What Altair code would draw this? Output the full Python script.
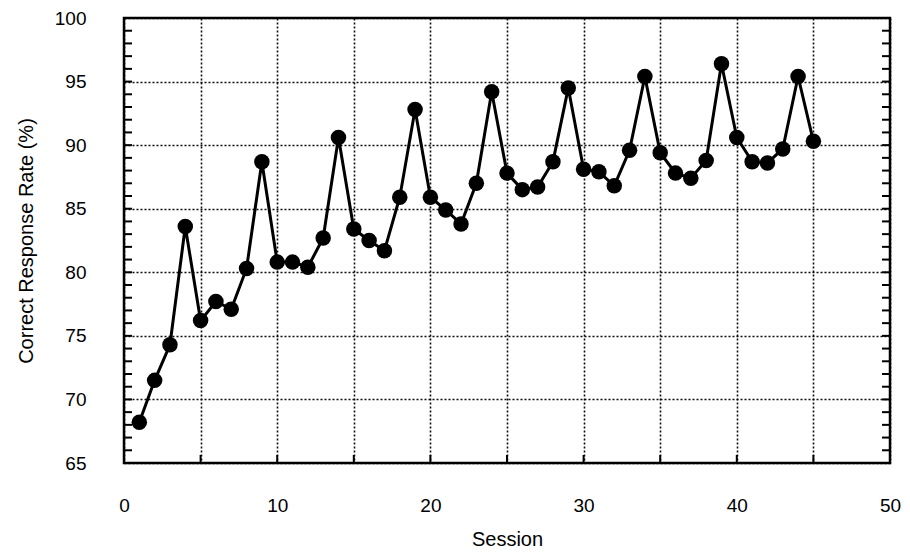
import altair as alt
import pandas as pd

sessions = list(range(1, 46))
rates = [68.2, 71.5, 74.3, 83.6, 76.2, 77.7, 77.1, 80.3, 88.7, 80.8,
         80.8, 80.4, 82.7, 90.6, 83.4, 82.5, 81.7, 85.9, 92.8, 85.9,
         84.9, 83.8, 87.0, 94.2, 87.8, 86.5, 86.7, 88.7, 94.5, 88.1,
         87.9, 86.8, 89.6, 95.4, 89.4, 87.8, 87.4, 88.8, 96.4, 90.6,
         88.7, 88.6, 89.7, 95.4, 90.3]

x_ticks = [0, 10, 20, 30, 40, 50]
x_grid = list(range(0, 51, 5))
y_ticks = list(range(65, 101, 5))
y_minor = list(range(65, 101, 1))

W, H = 766, 445
FONT = "Liberation Sans"

df = pd.DataFrame({"Session": sessions, "Rate": rates})
xscale = alt.Scale(domain=[0, 50], nice=False, zero=False)
yscale = alt.Scale(domain=[65, 100], nice=False, zero=False)

x_axis = alt.Axis(values=x_grid, labelExpr="datum.value % 10 === 0 ? datum.label : ''",
                  grid=True, gridColor="black", gridDash=[2, 2], gridWidth=1.6, gridOpacity=0.95,
                  domain=False, ticks=False, labelFontSize=19, labelPadding=33,
                  labelFlush=False, labelBound=False,
                  labelFont=FONT, labelColor="black", title="Session", titleFont=FONT,
                  titleFontSize=20, titleFontWeight="normal", titleColor="black", titlePadding=14)
y_axis = alt.Axis(values=y_ticks, grid=True, gridColor="black", gridDash=[2, 2], gridWidth=1.6,
                  gridOpacity=0.95, domain=False, ticks=False, labelFontSize=19, labelPadding=38,
                  labelFlush=False,
                  labelFont=FONT, labelColor="black", title="Correct Response Rate (%)",
                  titleFont=FONT, titleFontSize=20, titleFontWeight="normal", titleColor="black",
                  titlePadding=18)

base = alt.Chart(df)
line = base.mark_line(color="black", strokeWidth=3).encode(
    x=alt.X("Session:Q", scale=xscale, axis=x_axis),
    y=alt.Y("Rate:Q", scale=yscale, axis=y_axis),
)
pts = base.mark_circle(color="black", size=240, opacity=1).encode(
    x=alt.X("Session:Q", scale=xscale),
    y=alt.Y("Rate:Q", scale=yscale),
)

yt = pd.DataFrame({"v": y_minor})
left_ticks = alt.Chart(yt).mark_rule(color="black", strokeWidth=2).encode(
    y=alt.Y("v:Q", scale=yscale), x=alt.value(0), x2=alt.value(8))
right_ticks = alt.Chart(yt).mark_rule(color="black", strokeWidth=2).encode(
    y=alt.Y("v:Q", scale=yscale), x=alt.value(W - 8), x2=alt.value(W))
xt = pd.DataFrame({"v": x_grid})
bottom_ticks = alt.Chart(xt).mark_rule(color="black", strokeWidth=2).encode(
    x=alt.X("v:Q", scale=xscale), y=alt.value(H - 8), y2=alt.value(H))

chart = alt.layer(line, pts, left_ticks, right_ticks, bottom_ticks).properties(
    width=W, height=H,
    background="white",
    autosize=alt.AutoSizeParams(type="none"),
    padding={"left": 116, "top": 10, "right": 12, "bottom": 85},
).configure_view(stroke="black", strokeWidth=2.5)

chart.save("out.html", embed_options={"renderer": "svg", "actions": False})
